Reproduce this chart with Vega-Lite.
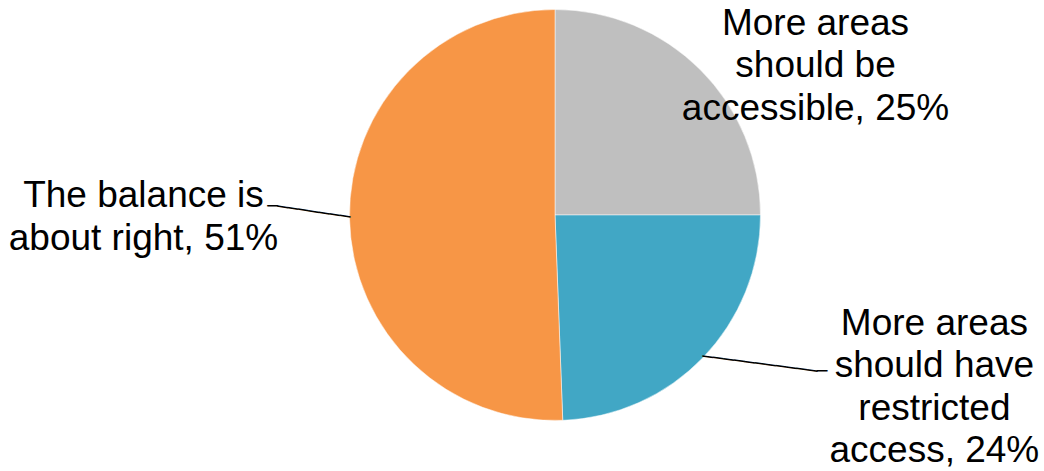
{
  "$schema": "https://vega.github.io/schema/vega-lite/v6.json",
  "autosize": {"type": "none"},
  "width": 978,
  "height": 430,
  "padding": {"left": 66, "top": 0, "right": 0, "bottom": 41},
  "background": "white",
  "config": {"view": {"stroke": null}},
  "data": {
    "values": [
      {"cat": "More areas should be accessible", "label": "More areas\nshould be\naccessible, 25%", "value": 25.0, "rank": 1},
      {"cat": "More areas should have restricted access", "label": "More areas\nshould have\nrestricted\naccess, 24%", "value": 24.4, "rank": 2},
      {"cat": "The balance is about right", "label": "The balance is\nabout right, 51%", "value": 50.6, "rank": 3}
    ]
  },
  "encoding": {
    "theta": {"field": "value", "type": "quantitative", "stack": true},
    "order": {"field": "rank", "type": "ordinal"}
  },
  "layer": [
    {
      "mark": {"type": "arc", "outerRadius": 205.5, "stroke": "white", "strokeWidth": 0.5},
      "encoding": {
        "color": {
          "field": "cat", "type": "nominal", "legend": null,
          "scale": {
            "domain": ["More areas should be accessible", "More areas should have restricted access", "The balance is about right"],
            "range": ["#BFBFBF", "#41A7C5", "#F79646"]
          }
        }
      }
    },
    {
      "mark": {"type": "text", "radius": 300, "dx": 48.4, "dy": 32.1, "align": "center", "baseline": "alphabetic", "font": "Liberation Sans", "fontSize": 37, "lineHeight": 42.5, "lineBreak": "\n", "color": "black"},
      "encoding": {"text": {"condition": {"test": "datum.rank === 1", "field": "label", "type": "nominal"}, "value": ""}}
    },
    {
      "mark": {"type": "text", "radius": 300, "dx": 163.3, "dy": -88, "align": "center", "baseline": "alphabetic", "font": "Liberation Sans", "fontSize": 37, "lineHeight": 42.3, "lineBreak": "\n", "color": "black"},
      "encoding": {"text": {"condition": {"test": "datum.rank === 2", "field": "label", "type": "nominal"}, "value": ""}}
    },
    {
      "mark": {"type": "text", "radius": 411.5, "dx": -0.1, "dy": -16.2, "align": "center", "baseline": "alphabetic", "font": "Liberation Sans", "fontSize": 37, "lineHeight": 43, "lineBreak": "\n", "color": "black"},
      "encoding": {"text": {"condition": {"test": "datum.rank === 3", "field": "label", "type": "nominal"}, "value": ""}}
    },
    {
      "mark": {"type": "text", "radius": 241.5, "dx": -1, "dy": -7, "angle": 8.6, "align": "center", "baseline": "middle", "font": "DejaVu Sans Mono", "fontSize": 17.5, "color": "black"},
      "encoding": {"text": {"condition": {"test": "datum.rank === 3", "value": "───────"}, "value": ""}}
    },
    {
      "mark": {"type": "text", "radius": 282.5, "dx": 0, "dy": -13.4, "align": "center", "baseline": "middle", "font": "DejaVu Sans Mono", "fontSize": 17.5, "color": "black"},
      "encoding": {"text": {"condition": {"test": "datum.rank === 3", "value": "─"}, "value": ""}}
    },
    {
      "mark": {"type": "text", "radius": 251.4, "dx": 20.4, "dy": -27.7, "angle": 7.5, "align": "center", "baseline": "middle", "font": "DejaVu Sans Mono", "fontSize": 17.5, "color": "black"},
      "encoding": {"text": {"condition": {"test": "datum.rank === 2", "value": "───────────"}, "value": ""}}
    },
    {
      "mark": {"type": "text", "radius": 300, "dx": 50.8, "dy": -51, "align": "center", "baseline": "middle", "font": "DejaVu Sans Mono", "fontSize": 17.5, "color": "black"},
      "encoding": {"text": {"condition": {"test": "datum.rank === 2", "value": "─"}, "value": ""}}
    }
  ]
}
